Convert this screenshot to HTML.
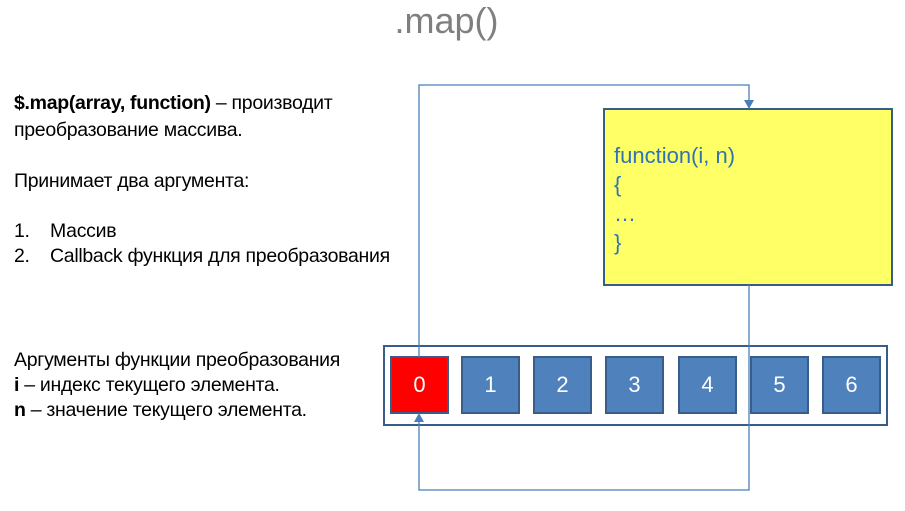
<!DOCTYPE html>
<html><head><meta charset="utf-8"><style>
body{margin:0;width:905px;height:511px;background:#fff;position:relative;overflow:hidden;font-family:"Liberation Sans",sans-serif}
.t{position:absolute;font-size:19.5px;color:#000;white-space:nowrap;line-height:22px;letter-spacing:-0.3px}
.c{position:absolute;width:55px;height:54px;background:#4f81bd;border:2px solid #385d8a;color:#fff;font-size:22px;text-align:center;line-height:54px;box-sizing:content-box}
</style></head><body>
<div style="position:absolute;left:0;width:893px;top:0px;text-align:center;font-size:36px;color:#7f7f7f">.map()</div>
<div class="t" style="left:14px;top:92px"><b>$.map(array, function)</b> – производит</div>
<div class="t" style="left:14px;top:119px">преобразование массива.</div>
<div class="t" style="left:14px;top:170px">Принимает два аргумента:</div>
<div class="t" style="left:14px;top:220px">1.</div><div class="t" style="left:50px;top:220px">Массив</div>
<div class="t" style="left:14px;top:245px">2.</div><div class="t" style="left:50px;top:245px">Callback функция для преобразования</div>
<div class="t" style="left:14px;top:349px">Аргументы функции преобразования</div>
<div class="t" style="left:14px;top:374px"><b>i</b> – индекс текущего элемента.</div>
<div class="t" style="left:14px;top:399px"><b>n</b> – значение текущего элемента.</div>
<div style="position:absolute;left:603px;top:108px;width:286px;height:174px;background:#ffff66;border:2px solid #385d8a"></div>
<div style="position:absolute;left:614px;top:141px;color:#2e74b5;font-size:22px;line-height:29px">function(i, n)<br>{<br>…<br>}</div>
<div style="position:absolute;left:383px;top:345px;width:501px;height:77px;border:2px solid #385d8a"></div>
<div class="c" style="left:390px;top:356px;background:#ff0000">0</div>
<div class="c" style="left:461px;top:356px">1</div>
<div class="c" style="left:533px;top:356px">2</div>
<div class="c" style="left:605px;top:356px">3</div>
<div class="c" style="left:678px;top:356px">4</div>
<div class="c" style="left:750px;top:356px">5</div>
<div class="c" style="left:822px;top:356px">6</div>
<svg style="position:absolute;left:0;top:0" width="905" height="511">
<g stroke="#4a7ebb" stroke-width="1.3" fill="none">
<polyline points="419,357 419,85 749,85 749,102"/>
<polyline points="749,285 749,490 419,490 419,420"/>
</g>
<polygon points="744,100 754,100 749,109" fill="#4a7ebb"/>
<polygon points="414,422 424,422 419,413" fill="#4a7ebb"/>
</svg>
</body></html>
